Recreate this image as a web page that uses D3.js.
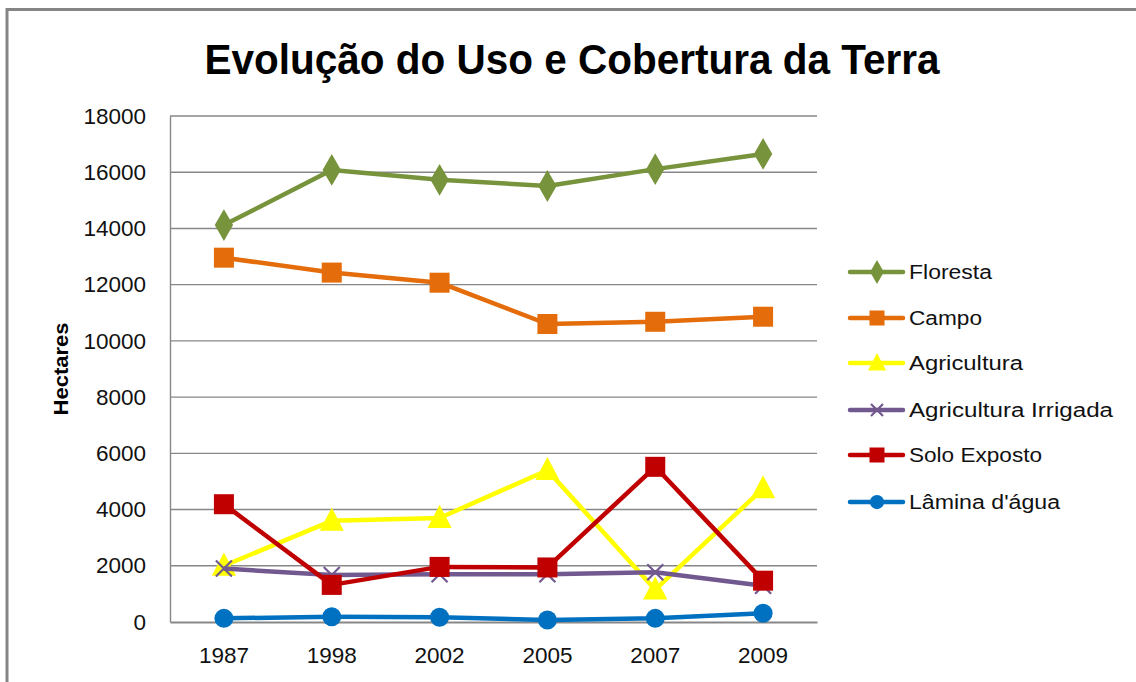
<!DOCTYPE html>
<html><head><meta charset="utf-8">
<script src="https://cdn.jsdelivr.net/npm/d3@7"></script>
<style>body{margin:0;background:#fff}svg{display:block}</style>
</head><body>
<script>
const years = ["1987","1998","2002","2005","2007","2009"];
const yTicks = [0,2000,4000,6000,8000,10000,12000,14000,16000,18000];
const seriesNames = ["Floresta","Campo","Agricultura","Agricultura Irrigada","Solo Exposto","Lâmina d'água"];
const floresta = [14120,16080,15730,15510,16110,16650];
const campo = [12960,12430,12070,10600,10680,10860];
const agricultura = [2000,3600,3700,5400,1150,4750];
const irrigada = [1900,1670,1700,1700,1770,1290];
const soloExposto = [4190,1320,1960,1940,5520,1470];
const lamina = [130,190,170,70,130,310];
const colors = ["#77933C","#E46C0A","#FFFF00","#71588F","#C00000","#0070C0"];
const markers = ["diamond","square","triangle","cross","square","circle"];
const values = [floresta,campo,agricultura,irrigada,soloExposto,lamina];

(function(){
const W=1136,H=682;
const svg=d3.select("body").append("svg").attr("width",W).attr("height",H);
svg.append("rect").attr("x",0).attr("y",0).attr("width",W).attr("height",H).attr("fill","#fff");
svg.append("path").attr("d",`M7,${H+5} L7,9.5 L${W+5},9.5`).attr("fill","none").attr("stroke","#858585").attr("stroke-width",3);

const pl=170,pr=817,pt=116,pb=622;
const x=d3.scaleBand().domain(years).range([pl,pr]);
const y=d3.scaleLinear().domain([0,18000]).range([pb,pt]);
const font="'Liberation Sans', Arial, sans-serif";

svg.append("g").selectAll("line").data(yTicks.filter(d=>d>0)).join("line")
  .attr("x1",pl).attr("x2",pr).attr("y1",d=>y(d)).attr("y2",d=>y(d))
  .attr("stroke","#878787").attr("stroke-width",1.4);

const ya=svg.append("g").attr("transform",`translate(${pl},0)`)
  .call(d3.axisLeft(y).tickValues(yTicks).tickSize(0).tickPadding(24).tickFormat(d3.format("d")));
ya.select(".domain").attr("stroke","#878787").attr("stroke-width",1.4);
ya.selectAll("text").attr("font-family",font).attr("font-size",22.5).attr("fill","#111");

const xa=svg.append("g").attr("transform",`translate(0,${pb})`)
  .call(d3.axisBottom(x).tickSize(0).tickPadding(25));
xa.select(".domain").attr("stroke","#878787").attr("stroke-width",2.2);
xa.selectAll("text").attr("font-family",font).attr("font-size",22.5).attr("fill","#111");

svg.append("text").attr("x",572).attr("y",74).attr("text-anchor","middle")
  .attr("font-family",font).attr("font-weight","bold").attr("font-size",43)
  .attr("textLength",735).attr("lengthAdjust","spacingAndGlyphs").attr("fill","#000")
  .text("Evolução do Uso e Cobertura da Terra");

svg.append("text").attr("transform","translate(68,369) rotate(-90)").attr("text-anchor","middle")
  .attr("font-family",font).attr("font-weight","bold").attr("font-size",21)
  .attr("textLength",93).attr("lengthAdjust","spacingAndGlyphs").text("Hectares");

function marker(g,type,color,s){
  if(type==="diamond") g.append("path").attr("d",d3.symbol(d3.symbolDiamond,s*s*0.9)()).attr("fill",color);
  else if(type==="square") g.append("rect").attr("x",-s/2).attr("y",-s/2).attr("width",s).attr("height",s).attr("fill",color);
  else if(type==="triangle") g.append("path").attr("d",`M0,${-s*0.6} L${s*0.55},${s*0.45} L${-s*0.55},${s*0.45} Z`).attr("fill",color);
  else if(type==="circle") g.append("circle").attr("r",s/2).attr("fill",color);
  else if(type==="cross") g.append("path").attr("d",`M${-s/2},${-s/2} L${s/2},${s/2} M${s/2},${-s/2} L${-s/2},${s/2}`).attr("stroke",color).attr("stroke-width",2.2);
}
const sizes=[18,20,22,16,20,19];
const line=d3.line().x((d,i)=>x(years[i])+x.bandwidth()/2).y(d=>y(d));
values.forEach((vals,k)=>{
  const g=svg.append("g");
  g.append("path").datum(vals).attr("d",line).attr("fill","none").attr("stroke",colors[k]).attr("stroke-width",4.5).attr("stroke-linejoin","round");
  vals.forEach((v,i)=>{
    const mg=g.append("g").attr("transform",`translate(${x(years[i])+x.bandwidth()/2},${y(v)})`);
    marker(mg,markers[k],colors[k],sizes[k]);
  });
});

const legY=[272,318,363,410,455,502];
const legW=[83,73,114,204,133,151];
seriesNames.forEach((n,k)=>{
  const g=svg.append("g").attr("transform",`translate(0,${legY[k]})`);
  g.append("line").attr("x1",850).attr("x2",903).attr("y1",0).attr("y2",0).attr("stroke",colors[k]).attr("stroke-width",4.5).attr("stroke-linecap","round");
  const mg=g.append("g").attr("transform","translate(877,0)");
  marker(mg,markers[k],colors[k],sizes[k]*0.75);
  g.append("text").attr("x",909).attr("y",7).attr("font-family",font).attr("font-size",20)
    .attr("textLength",legW[k]).attr("lengthAdjust","spacingAndGlyphs").attr("fill","#111").text(n);
});
})();
</script>
</body></html>
